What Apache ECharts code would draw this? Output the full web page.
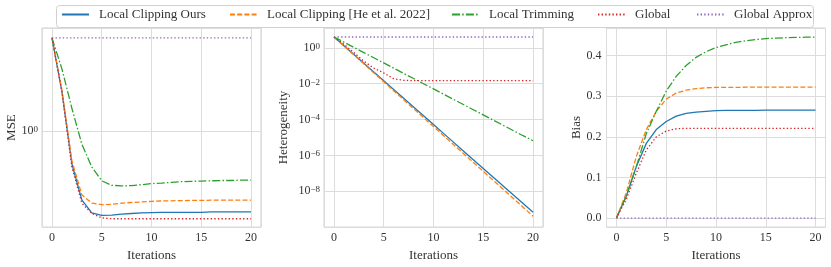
<!DOCTYPE html>
<html><head><meta charset="utf-8">
<script src="https://cdn.jsdelivr.net/npm/echarts@6/dist/echarts.min.js"></script>
<style>html,body{margin:0;padding:0;background:#fff}#c{width:831px;height:267px}</style>
</head><body><div id="c"></div>
<script>
const iterations = [0,1,2,3,4,5,6,7,8,9,10,11,12,13,14,15,16,17,18,19,20];
const seriesNames = ['Local Clipping Ours','Local Clipping [He et al. 2022]','Local Trimming','Global','Global Approx'];

// MSE (log scale)
const mseOurs   = [4.07,1.81,0.611,0.355,0.292,0.281,0.282,0.286,0.289,0.292,0.293,0.294,0.294,0.294,0.294,0.294,0.296,0.296,0.296,0.296,0.296];
const mseHe     = [4.07,1.85,0.641,0.383,0.338,0.330,0.332,0.338,0.341,0.344,0.347,0.349,0.350,0.351,0.352,0.352,0.353,0.353,0.353,0.353,0.353];
const mseTrim   = [4.07,2.55,1.41,0.822,0.582,0.473,0.442,0.438,0.440,0.446,0.453,0.457,0.462,0.467,0.469,0.471,0.473,0.475,0.475,0.478,0.478];
const mseGlobal = [4.07,1.81,0.582,0.338,0.289,0.271,0.267,0.267,0.267,0.267,0.267,0.267,0.267,0.267,0.267,0.267,0.267,0.267,0.267,0.267,0.267];
const mseApprox = [4.07,4.07,4.07,4.07,4.07,4.07,4.07,4.07,4.07,4.07,4.07,4.07,4.07,4.07,4.07,4.07,4.07,4.07,4.07,4.07,4.07];

// Heterogeneity (log scale)
const hetOurs   = [4.07,1.32,0.429,0.139,0.0451,0.0146,4.74e-3,1.54e-3,4.99e-4,1.62e-4,5.25e-5,1.70e-5,5.52e-6,1.79e-6,5.81e-7,1.88e-7,6.11e-8,1.98e-8,6.43e-9,2.08e-9,6.76e-10];
const hetHe     = [4.07,1.29,0.407,0.129,0.0407,0.0129,4.07e-3,1.29e-3,4.07e-4,1.29e-4,4.07e-5,1.29e-5,4.07e-6,1.29e-6,4.07e-7,1.29e-7,4.07e-8,1.29e-8,4.07e-9,1.29e-9,4.07e-10];
const hetTrim   = [4.07,2.09,1.07,0.55,0.282,0.145,0.0741,0.038,0.0195,0.01,5.13e-3,2.63e-3,1.35e-3,6.92e-4,3.55e-4,1.82e-4,9.33e-5,4.79e-5,2.45e-5,1.26e-5,6.6e-6];
const hetGlobal = [4.07,1.6,0.55,0.18,0.075,0.04,0.019,0.0155,0.0148,0.0148,0.0148,0.0148,0.0148,0.0148,0.0148,0.0148,0.0148,0.0148,0.0148,0.0148,0.0148];
const hetApprox = [4.07,4.07,4.07,4.07,4.07,4.07,4.07,4.07,4.07,4.07,4.07,4.07,4.07,4.07,4.07,4.07,4.07,4.07,4.07,4.07,4.07];

// Bias
const biasOurs   = [0,0.055,0.127,0.184,0.218,0.238,0.251,0.258,0.261,0.263,0.2645,0.2653,0.2653,0.2653,0.2653,0.266,0.266,0.266,0.266,0.266,0.266];
const biasHe     = [0,0.063,0.152,0.218,0.263,0.293,0.308,0.315,0.319,0.321,0.3218,0.3218,0.3218,0.3226,0.3226,0.3226,0.3226,0.3226,0.3226,0.3226,0.3226];
const biasTrim   = [0,0.055,0.127,0.208,0.263,0.313,0.349,0.376,0.396,0.410,0.420,0.427,0.433,0.437,0.440,0.442,0.4435,0.4444,0.445,0.4456,0.446];
const biasGlobal = [0,0.047,0.111,0.168,0.200,0.2145,0.220,0.221,0.221,0.221,0.221,0.221,0.221,0.221,0.221,0.221,0.221,0.221,0.221,0.221,0.221];
const biasApprox = [0,0,0,0,0,0,0,0,0,0,0,0,0,0,0,0,0,0,0,0,0];

const xTicks = [0,5,10,15,20];
const yNames = ['MSE','Heterogeneity','Bias'];

const FONT = "'Liberation Serif','Times New Roman',serif";
const TXT = '#333';
const GRIDC = '#dcdcdc';
const colors = ['#1f77b4','#ff7f0e','#2ca02c','#d62728','#9467bd'];
const dashes = ['solid',[5,2.2],[8,2.2,1.5,2.2],[1.4,2.2],[1.4,2.2]];

const panels = [
  [mseOurs,mseHe,mseTrim,mseGlobal,mseApprox],
  [hetOurs,hetHe,hetTrim,hetGlobal,hetApprox],
  [biasOurs,biasHe,biasTrim,biasGlobal,biasApprox]
];

const gridLefts = [42,324,606.5];
const grids = gridLefts.map(l => ({left:l, top:28, width:219, height:202, show:true, borderColor:'#d0d0d0', borderWidth:1, containLabel:false}));

function supLabel(v){
  const lg = Math.log10(v);
  const e = Math.round(lg);
  if (Math.abs(lg - e) > 1e-6) return '';
  if (e < -9 || e > 0) return '';
  return '{b|10}{s|' + String(e).replace('-', '\u2212') + '}';
}
const richSup = {
  b:{fontSize:12, fontFamily:FONT, color:TXT, lineHeight:12, verticalAlign:'bottom'},
  s:{fontSize:9, fontFamily:FONT, color:TXT, lineHeight:9, verticalAlign:'top', padding:[0,0,7,0]}
};

const xAxes = [0,1,2].map(i => ({
  type:'value', gridIndex:i, min:-1, max:21, splitNumber:4,
  axisLine:{show:false}, axisTick:{show:false},
  splitLine:{show:true, lineStyle:{color:GRIDC, width:1}},
  axisLabel:{margin:5, fontSize:12, fontFamily:FONT, color:TXT, showMinLabel:false, showMaxLabel:false,
    formatter: v => xTicks.includes(v) ? String(v) : ''},
  name:'Iterations', nameLocation:'middle', nameGap:18,
  nameTextStyle:{fontSize:13, fontFamily:FONT, color:TXT}
}));

const yAxes = [
  {type:'log', gridIndex:0, min:0.2355, max:4.72, logBase:10,
   axisLabel:{margin:4, formatter:supLabel, rich:richSup, showMinLabel:false, showMaxLabel:false},
   name:yNames[0], nameGap:24},
  {type:'log', gridIndex:1, min:1e-10, max:12.9, logBase:10, interval:2,
   axisLabel:{margin:4, formatter:supLabel, rich:richSup, showMinLabel:false, showMaxLabel:false},
   name:yNames[1], nameGap:34},
  {type:'value', gridIndex:2, min:-0.0223, max:0.4683, splitNumber:5,
   axisLabel:{margin:5, fontSize:12, fontFamily:FONT, color:TXT, showMinLabel:false, showMaxLabel:false,
     formatter: v => { const r = Math.round(v*10)/10; return Math.abs(v-r)<1e-9 ? r.toFixed(1) : ''; }},
   name:yNames[2], nameGap:23}
].map(a => Object.assign({
  axisLine:{show:false}, axisTick:{show:false},
  splitLine:{show:true, lineStyle:{color:GRIDC, width:1}},
  nameLocation:'middle', nameRotate:90,
  nameTextStyle:{fontSize:13, fontFamily:FONT, color:TXT}
}, a));

const series = [];
panels.forEach((arrs, p) => {
  arrs.forEach((arr, k) => {
    series.push({
      type:'line', name:seriesNames[k], xAxisIndex:p, yAxisIndex:p,
      data: iterations.map((x, i) => [x, arr[i]]),
      symbol:'none', smooth:false, animation:false,
      lineStyle:{color:colors[k], width:1.3, type:dashes[k]},
      itemStyle:{color:colors[k]}
    });
  });
});

const legendLefts = [61,229,451,597,696];
const legends = seriesNames.map((n, k) => ({
  data:[n], left:legendLefts[k], top:8, padding:0, itemWidth:27, itemHeight:14, itemGap:0, z:20,
  selectedMode:false,
  itemStyle:{opacity:0},
  textStyle:{fontSize:13, fontFamily:FONT, color:TXT, padding:[0,0,0,5]}
}));

const chart = echarts.init(document.getElementById('c'), null, {renderer:'canvas'});
chart.setOption({
  backgroundColor:'#fff',
  animation:false,
  graphic:[{type:'rect', z:10, shape:{x:56.5, y:5.5, width:757, height:22, r:3},
    style:{fill:'#fff', stroke:'#d0d0d0', lineWidth:1}}],
  legend: legends,
  grid: grids,
  xAxis: xAxes,
  yAxis: yAxes,
  series: series
});
</script></body></html>
